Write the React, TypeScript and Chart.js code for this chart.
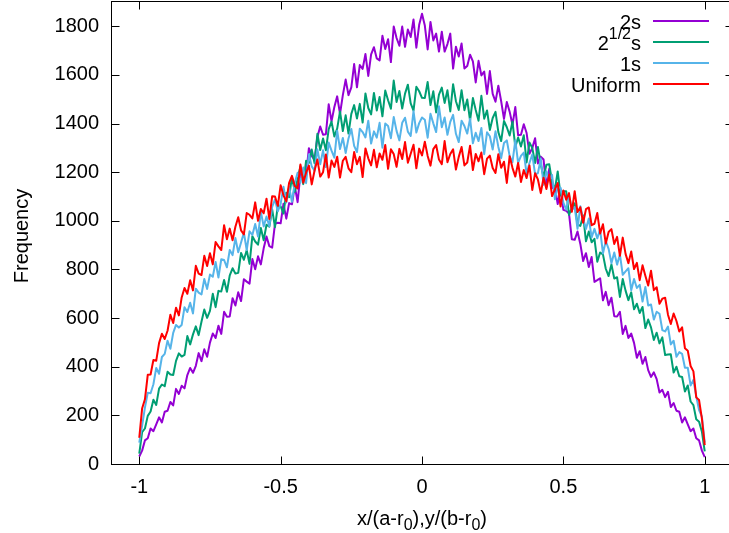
import React, { useEffect, useRef } from 'react';
import { Chart, registerables } from 'chart.js';

Chart.register(...registerables);

const FONT = '"Liberation Sans", Arial, Helvetica, sans-serif';

const X_BINS = [
  -1, -0.99, -0.98, -0.97, -0.96, -0.95, -0.94, -0.93, -0.92, -0.91,
  -0.9, -0.89, -0.88, -0.87, -0.86, -0.85, -0.84, -0.83, -0.82, -0.81,
  -0.8, -0.79, -0.78, -0.77, -0.76, -0.75, -0.74, -0.73, -0.72, -0.71,
  -0.7, -0.69, -0.68, -0.67, -0.66, -0.65, -0.64, -0.63, -0.62, -0.61,
  -0.6, -0.59, -0.58, -0.57, -0.56, -0.55, -0.54, -0.53, -0.52, -0.51,
  -0.5, -0.49, -0.48, -0.47, -0.46, -0.45, -0.44, -0.43, -0.42, -0.41,
  -0.4, -0.39, -0.38, -0.37, -0.36, -0.35, -0.34, -0.33, -0.32, -0.31,
  -0.3, -0.29, -0.28, -0.27, -0.26, -0.25, -0.24, -0.23, -0.22, -0.21,
  -0.2, -0.19, -0.18, -0.17, -0.16, -0.15, -0.14, -0.13, -0.12, -0.11,
  -0.1, -0.09, -0.08, -0.07, -0.06, -0.05, -0.04, -0.03, -0.02, -0.01,
  0,
  0.01, 0.02, 0.03, 0.04, 0.05, 0.06, 0.07, 0.08, 0.09, 0.1,
  0.11, 0.12, 0.13, 0.14, 0.15, 0.16, 0.17, 0.18, 0.19, 0.2,
  0.21, 0.22, 0.23, 0.24, 0.25, 0.26, 0.27, 0.28, 0.29, 0.3,
  0.31, 0.32, 0.33, 0.34, 0.35, 0.36, 0.37, 0.38, 0.39, 0.4,
  0.41, 0.42, 0.43, 0.44, 0.45, 0.46, 0.47, 0.48, 0.49, 0.5,
  0.51, 0.52, 0.53, 0.54, 0.55, 0.56, 0.57, 0.58, 0.59, 0.6,
  0.61, 0.62, 0.63, 0.64, 0.65, 0.66, 0.67, 0.68, 0.69, 0.7,
  0.71, 0.72, 0.73, 0.74, 0.75, 0.76, 0.77, 0.78, 0.79, 0.8,
  0.81, 0.82, 0.83, 0.84, 0.85, 0.86, 0.87, 0.88, 0.89, 0.9,
  0.91, 0.92, 0.93, 0.94, 0.95, 0.96, 0.97, 0.98, 0.99, 1,
];

const FREQ_2S = [
  31, 55, 97, 106, 146, 135, 163, 192, 171, 215,
  219, 255, 241, 309, 288, 322, 311, 366, 395, 375,
  404, 456, 423, 472, 441, 499, 537, 518, 569, 535,
  626, 606, 607, 682, 652, 706, 670, 760, 750, 742,
  843, 801, 854, 821, 887, 936, 896, 890, 988, 992,
  990, 1070, 1009, 1073, 1068, 1143, 1077, 1193, 1212, 1190,
  1299, 1267, 1251, 1345, 1388, 1354, 1356, 1479, 1409, 1468,
  1512, 1440, 1517, 1581, 1517, 1549, 1645, 1549, 1641, 1625,
  1686, 1596, 1685, 1714, 1668, 1660, 1761, 1707, 1747, 1653,
  1799, 1752, 1720, 1799, 1716, 1787, 1756, 1828, 1712, 1806,
  1852,
  1803, 1705, 1818, 1742, 1770, 1696, 1778, 1696, 1727, 1770,
  1626, 1716, 1676, 1729, 1627, 1637, 1683, 1656, 1569, 1658,
  1598, 1614, 1522, 1616, 1522, 1490, 1556, 1492, 1419, 1489,
  1449, 1395, 1468, 1352, 1354, 1397, 1361, 1276, 1299, 1340,
  1236, 1264, 1252, 1139, 1214, 1135, 1137, 1069, 1130, 1045,
  1041, 1030, 924, 922, 956, 905, 835, 867, 810, 851,
  749, 756, 764, 673, 708, 653, 684, 608, 607, 626,
  535, 568, 518, 536, 498, 437, 464, 412, 440, 386,
  358, 377, 349, 294, 305, 275, 297, 234, 251, 219,
  215, 171, 192, 163, 135, 146, 106, 97, 55, 28,
];

const FREQ_SQRT2S = [
  43, 131, 146, 198, 216, 264, 243, 310, 327, 320,
  379, 368, 366, 424, 455, 442, 449, 526, 492, 533,
  566, 530, 585, 635, 601, 630, 700, 645, 712, 709,
  757, 708, 776, 805, 783, 786, 868, 840, 879, 823,
  937, 915, 902, 971, 920, 984, 976, 1047, 974, 1062,
  1060, 1030, 1116, 1097, 1181, 1119, 1172, 1225, 1151, 1247,
  1238, 1293, 1237, 1358, 1291, 1339, 1290, 1377, 1408, 1347,
  1379, 1450, 1369, 1434, 1359, 1440, 1476, 1421, 1481, 1404,
  1524, 1464, 1438, 1526, 1454, 1509, 1430, 1536, 1496, 1461,
  1577, 1489, 1534, 1462, 1523, 1560, 1483, 1453, 1551, 1533,
  1506,
  1505, 1571, 1476, 1533, 1446, 1519, 1548, 1485, 1537, 1450,
  1562, 1492, 1456, 1537, 1455, 1499, 1412, 1505, 1456, 1412,
  1514, 1420, 1454, 1374, 1423, 1448, 1365, 1328, 1411, 1385,
  1351, 1408, 1304, 1343, 1306, 1352, 1240, 1322, 1300, 1238,
  1304, 1233, 1180, 1231, 1233, 1161, 1128, 1203, 1105, 1122,
  1122, 1025, 1054, 1072, 984, 979, 1022, 916, 956, 912,
  926, 832, 870, 862, 803, 773, 821, 763, 768, 687,
  761, 713, 674, 706, 636, 659, 621, 646, 559, 594,
  562, 510, 540, 496, 521, 448, 450, 451, 376, 400,
  361, 358, 298, 323, 257, 242, 184, 174, 133, 52,
];

const FREQ_1S = [
  88, 157, 232, 293, 291, 328, 395, 371, 440, 453,
  507, 474, 539, 572, 561, 572, 645, 625, 663, 619,
  721, 705, 697, 761, 720, 779, 770, 831, 767, 842,
  839, 809, 880, 859, 929, 871, 911, 951, 880, 957,
  942, 987, 936, 1038, 977, 1018, 978, 1057, 1088, 1039,
  1070, 1140, 1075, 1139, 1078, 1157, 1198, 1157, 1219, 1155,
  1274, 1224, 1206, 1294, 1233, 1290, 1221, 1322, 1289, 1260,
  1371, 1295, 1341, 1279, 1339, 1378, 1308, 1283, 1379, 1365,
  1343, 1412, 1318, 1368, 1342, 1403, 1301, 1400, 1390, 1340,
  1427, 1370, 1331, 1403, 1424, 1367, 1349, 1451, 1363, 1402,
  1425,
  1416, 1342, 1440, 1401, 1365, 1471, 1385, 1425, 1354, 1407,
  1436, 1358, 1324, 1412, 1390, 1359, 1420, 1319, 1362, 1328,
  1382, 1274, 1364, 1348, 1293, 1368, 1304, 1258, 1320, 1331,
  1266, 1241, 1331, 1238, 1267, 1281, 1193, 1238, 1273, 1192,
  1196, 1256, 1148, 1204, 1167, 1189, 1089, 1139, 1136, 1075,
  1046, 1107, 1045, 1057, 967, 1060, 1008, 967, 1010, 932,
  967, 928, 964, 866, 917, 885, 826, 870, 820, 862,
  778, 792, 805, 715, 761, 724, 737, 668, 728, 652,
  656, 594, 626, 618, 551, 545, 565, 492, 507, 441,
  460, 453, 396, 396, 323, 346, 278, 222, 195, 88,
];

const FREQ_UNIFORM = [
  108, 228, 266, 367, 368, 428, 425, 497, 536, 514,
  548, 614, 580, 643, 611, 685, 724, 700, 756, 714,
  815, 783, 777, 856, 814, 867, 821, 913, 895, 880,
  982, 924, 968, 920, 976, 1015, 961, 944, 1032, 1025,
  1010, 1076, 1000, 1049, 1031, 1091, 1008, 1101, 1100, 1062,
  1146, 1105, 1080, 1156, 1185, 1143, 1133, 1232, 1157, 1198,
  1227, 1150, 1207, 1252, 1182, 1200, 1273, 1178, 1248, 1222,
  1264, 1178, 1247, 1263, 1216, 1200, 1283, 1233, 1263, 1180,
  1298, 1257, 1228, 1292, 1220, 1277, 1251, 1312, 1214, 1294,
  1275, 1222, 1296, 1254, 1324, 1239, 1276, 1313, 1216, 1297,
  1269,
  1325, 1267, 1227, 1295, 1312, 1252, 1233, 1328, 1241, 1275,
  1294, 1211, 1263, 1304, 1228, 1240, 1309, 1209, 1275, 1245,
  1281, 1192, 1256, 1268, 1217, 1197, 1274, 1218, 1243, 1156,
  1266, 1218, 1182, 1238, 1160, 1209, 1176, 1228, 1127, 1196,
  1170, 1114, 1177, 1131, 1191, 1102, 1129, 1155, 1059, 1125,
  1087, 1114, 1037, 1122, 1036, 1056, 992, 1048, 1055, 982,
  988, 1032, 948, 986, 907, 954, 966, 905, 934, 856,
  931, 864, 826, 874, 802, 827, 756, 817, 774, 734,
  795, 715, 727, 659, 680, 684, 614, 576, 619, 588,
  545, 562, 476, 466, 403, 381, 274, 263, 187, 78,
];

const X_TICKS = [-1, -0.5, 0, 0.5, 1];
const Y_TICKS = [0, 200, 400, 600, 800, 1000, 1200, 1400, 1600, 1800];

type Part = { t: string; sup?: boolean; sub?: boolean };

const SERIES_NAMES = ['2s', '2^(1/2)s', '1s', 'Uniform'];
const LEGEND_LABELS: Part[][] = [
  [{ t: '2s' }],
  [{ t: '2' }, { t: '1/2', sup: true }, { t: 's' }],
  [{ t: '1s' }],
  [{ t: 'Uniform' }],
];
const COLORS = ['#9400D3', '#009E73', '#56B4E9', '#FF0000'];
const X_TITLE: Part[] = [
  { t: 'x/(a-r' },
  { t: '0', sub: true },
  { t: '),y/(b-r' },
  { t: '0', sub: true },
  { t: ')' },
];
const Y_TITLE = 'Frequency';

function drawParts(
  ctx: CanvasRenderingContext2D,
  parts: Part[],
  x: number,
  y: number,
  align: 'left' | 'right' | 'center'
) {
  const fontFor = (p: Part) => `${p.sup || p.sub ? 16 : 20}px ${FONT}`;
  const widths = parts.map((p) => {
    ctx.font = fontFor(p);
    return ctx.measureText(p.t).width;
  });
  const total = widths.reduce((a, b) => a + b, 0);
  let cx = align === 'right' ? x - total : align === 'center' ? x - total / 2 : x;
  ctx.textAlign = 'left';
  ctx.textBaseline = 'alphabetic';
  parts.forEach((p, i) => {
    ctx.font = fontFor(p);
    ctx.fillText(p.t, cx, y + (p.sup ? -11 : p.sub ? 5 : 0));
    cx += widths[i];
  });
}

const decorPlugin = {
  id: 'gnuplotDecor',
  afterDraw(chart: any) {
    const { ctx, chartArea, scales } = chart;
    const { left, right, top, bottom } = chartArea;
    const xs = scales.x;
    const ys = scales.y;
    ctx.save();
    ctx.strokeStyle = '#000';
    ctx.lineWidth = 1;
    ctx.strokeRect(left + 0.5, top - 0.5, right - left, bottom - top + 1);
    ctx.beginPath();
    const TL = 8;
    X_TICKS.forEach((v) => {
      const px = Math.round(xs.getPixelForValue(v)) + 0.5;
      ctx.moveTo(px, bottom + 0.5);
      ctx.lineTo(px, bottom + 0.5 - TL);
      ctx.moveTo(px, top - 0.5);
      ctx.lineTo(px, top - 0.5 + TL);
    });
    Y_TICKS.forEach((v) => {
      const py = Math.round(ys.getPixelForValue(v)) + 0.5;
      ctx.moveTo(left + 0.5, py);
      ctx.lineTo(left + 0.5 + TL, py);
      ctx.moveTo(right + 0.5, py);
      ctx.lineTo(right + 0.5 - TL, py);
    });
    ctx.stroke();

    ctx.fillStyle = '#000';
    // legend
    LEGEND_LABELS.forEach((parts, i) => {
      const cy = 21 + i * 21;
      drawParts(ctx, parts, 641, cy + 7.5, 'right');
      ctx.strokeStyle = COLORS[i];
      ctx.lineWidth = 2;
      ctx.beginPath();
      ctx.moveTo(653, cy);
      ctx.lineTo(709, cy);
      ctx.stroke();
    });

    // axis titles
    ctx.fillStyle = '#000';
    drawParts(ctx, X_TITLE, (left + right) / 2, 525, 'center');
    ctx.save();
    ctx.translate(28, (top + bottom) / 2 + 3);
    ctx.rotate(-Math.PI / 2);
    ctx.font = `20px ${FONT}`;
    ctx.textAlign = 'center';
    ctx.textBaseline = 'alphabetic';
    ctx.fillText(Y_TITLE, 0, 0);
    ctx.restore();
    ctx.restore();
  },
};

export default function App() {
  const ref = useRef<HTMLCanvasElement>(null);
  useEffect(() => {
    const seriesValues = [FREQ_2S, FREQ_SQRT2S, FREQ_1S, FREQ_UNIFORM];
    const datasets = seriesValues.map((vals, i) => ({
      label: SERIES_NAMES[i],
      data: X_BINS.map((x, j) => ({ x, y: vals[j] })),
      borderColor: COLORS[i],
      backgroundColor: COLORS[i],
      borderWidth: 2,
      pointRadius: 0,
      tension: 0,
      fill: false,
      borderJoinStyle: 'round' as const,
      order: 3 - i,
    }));
    const tickFont = { family: FONT, size: 20 };
    const chart = new Chart(ref.current as HTMLCanvasElement, {
      type: 'line',
      data: { datasets },
      options: {
        animation: false,
        responsive: false,
        devicePixelRatio: 1,
        layout: { padding: { left: 0, right: 7, top: 2, bottom: 0 } },
        plugins: {
          legend: { display: false },
          tooltip: { enabled: false },
          title: { display: false },
        },
        scales: {
          x: {
            type: 'linear',
            min: -1.1,
            max: 1.1,
            grid: { display: false, drawTicks: false },
            border: { display: false },
            afterBuildTicks: (s: any) => {
              s.ticks = X_TICKS.map((v) => ({ value: v }));
            },
            afterFit: (s: any) => {
              s.height = 69;
              s.paddingLeft = 0;
              s.paddingRight = 0;
            },
            ticks: {
              color: '#000',
              font: tickFont,
              padding: 11,
              maxRotation: 0,
              autoSkip: false,
              callback: (v: any) => String(v),
            },
          },
          y: {
            type: 'linear',
            min: 0,
            max: 1900,
            grid: { display: false, drawTicks: false },
            border: { display: false },
            afterBuildTicks: (s: any) => {
              s.ticks = Y_TICKS.map((v) => ({ value: v }));
            },
            afterFit: (s: any) => {
              s.width = 111;
              s.paddingTop = 0;
              s.paddingBottom = 0;
            },
            ticks: {
              color: '#000',
              font: tickFont,
              padding: 12,
              autoSkip: false,
              callback: (v: any) => String(v),
            },
          },
        },
      },
      plugins: [decorPlugin],
    } as any);
    return () => chart.destroy();
  }, []);
  return (
    <div
      style={{
        position: 'fixed',
        left: 0,
        top: 0,
        width: 729,
        height: 533,
        overflow: 'hidden',
        background: '#fff',
      }}
    >
      <canvas ref={ref} width={740} height={533} style={{ display: 'block' }} />
    </div>
  );
}
